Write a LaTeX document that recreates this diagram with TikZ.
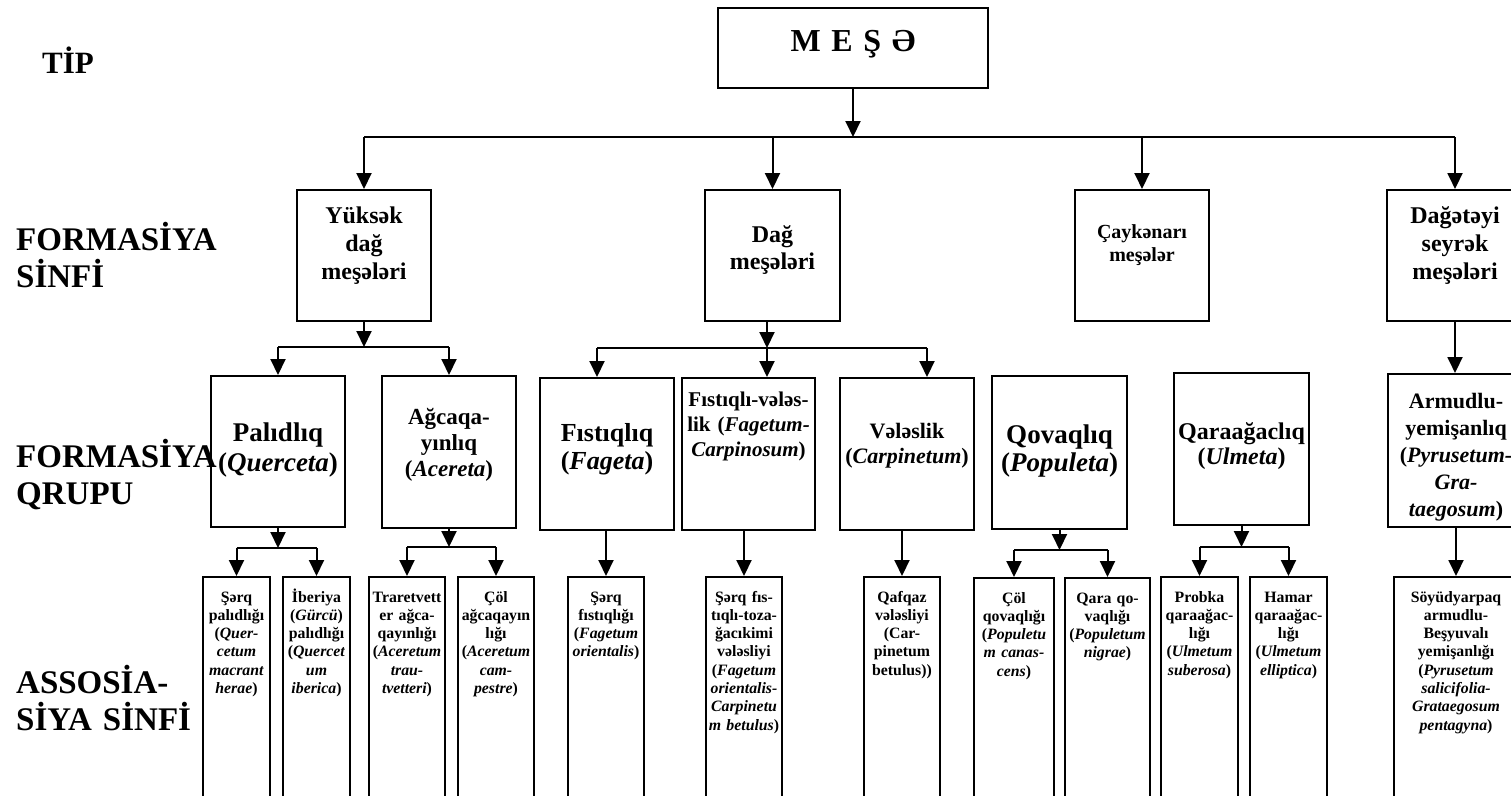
\documentclass[tikz,border=0pt]{standalone}
\usepackage{fontspec}
\setmainfont{Liberation Serif}
\usepackage{tikz}
\usetikzlibrary{arrows.meta}
\tikzset{>={Triangle[length=16pt,width=15pt]}}
\hyphenpenalty=10000
\exhyphenpenalty=10000

\begin{document}
\begin{tikzpicture}[x=1pt, y=-1pt,
	fsz/.style 2 args={font=\bfseries\fontsize{#1}{#2}\selectfont},
	box/.style={draw, line width=2pt, anchor=north west, inner xsep=2pt, inner ysep=0pt, align=center},
	assoc/.style={box, text height=25pt, text depth=240pt, fsz={15.8}{18.3}},
	lab/.style={anchor=base west, inner sep=0pt, text width=240pt, align=left, fsz={33}{37}},
	conn/.style={->, line width=2pt},
	bus/.style={line width=1.7pt}]
	\useasboundingbox (0,0) rectangle (1511,795);
	\clip (0,0) rectangle (1511,795);
	% level names
	\node[lab, fsz={31}{37}] (tip) at (42,73) {TİP};
	\node[lab] (fsinfi) at (16,250) {FORMASİYA\\SİNFİ};
	\node[lab] (fqrupu) at (16,467) {FORMASİYA\\QRUPU};
	\node[lab] (asinfi) at (16,693) {ASSOSİA-\\SİYA SİNFİ};
	% type
	\node[box, text width=266pt, text height=43pt, text depth=37pt, fsz={32}{38}] (mese) at (717,7) {M E Ş Ə};
	% formation classes
	\node[box, text width=130pt, text height=33pt, text depth=98pt, fsz={24}{28}] (ys) at (296,189) {Yüksək\\dağ\\meşələri};
	\node[box, text width=131pt, text height=52pt, text depth=79pt, fsz={24}{27}] (dag) at (704,189) {Dağ\\meşələri};
	\node[box, text width=130pt, text height=48pt, text depth=83pt, fsz={20}{23}] (cay) at (1074,189) {Çaykənarı\\meşələr};
	\node[box, text width=132pt, text height=33pt, text depth=98pt, fsz={24}{28}] (dty) at (1386,189) {Dağətəyi\\seyrək\\meşələri};
	% formation groups
	\node[box, text width=130pt, text height=65pt, text depth=86pt, fsz={27}{30}] (palid) at (210,375) {Palıdlıq\\(\textit{Querceta})};
	\node[box, text width=130pt, text height=48pt, text depth=104pt, fsz={23}{26}] (agc) at (381,375) {Ağcaqa-\\yınlıq\\(\textit{Acereta})};
	\node[box, text width=130pt, text height=63pt, text depth=89pt, fsz={26}{28}] (fist) at (539,377) {Fıstıqlıq\\(\textit{Fageta})};
	\node[box, text width=129pt, text height=28pt, text depth=124pt, fsz={21}{25}] (fv) at (681,377) {Fıstıqlı-vələs-\\lik (\textit{Fagetum-}\\\textit{Carpinosum})};
	\node[box, text width=130pt, text height=60pt, text depth=92pt, fsz={22}{25}] (vel) at (839,377) {Vələslik\\(\textit{Carpinetum})};
	\node[box, text width=131pt, text height=67pt, text depth=86pt, fsz={27}{28}] (qov) at (991,375) {Qovaqlıq\\(\textit{Populeta})};
	\node[box, text width=131pt, text height=66pt, text depth=86pt, fsz={24}{25}] (qar) at (1173,372) {Qaraağaclıq\\(\textit{Ulmeta})};
	\node[box, text width=132pt, text height=34pt, text depth=119pt, fsz={22}{27}] (arm) at (1387,373) {Armudlu-\\yemişanlıq\\(\textit{Pyrusetum-}\\\textit{Gra-}\\\textit{taegosum})};
	% association classes
	\node[assoc, text width=63pt] (a1) at (202,576) {Şərq\\palıdlığı\\(\textit{Quer-}\\\textit{cetum}\\\textit{macrant}\\\textit{herae})};
	\node[assoc, text width=63pt] (a2) at (282,576) {İberiya\\(\textit{Gürcü})\\palıdlığı\\(\textit{Quercet}\\\textit{um}\\\textit{iberica})};
	\node[assoc, text width=72pt] (a3) at (368,576) {Traretvett\\er ağca-\\qayınlığı\\(\textit{Aceretum}\\\textit{trau-}\\\textit{tvetteri})};
	\node[assoc, text width=72pt] (a4) at (457,576) {Çöl\\ağcaqayın\\lığı\\(\textit{Aceretum}\\\textit{cam-}\\\textit{pestre})};
	\node[assoc, text width=72pt] (a5) at (567,576) {Şərq\\fıstıqlığı\\(\textit{Fagetum}\\\textit{orientalis})};
	\node[assoc, text width=72pt] (a6) at (705,576) {Şərq fıs-\\tıqlı-toza-\\ğacıkimi\\vələsliyi\\(\textit{Fagetum}\\\textit{orientalis-}\\\textit{Carpinetu}\\\textit{m betulus})};
	\node[assoc, text width=72pt] (a7) at (863,576) {Qafqaz\\vələsliyi\\(Car-\\pinetum\\betulus))};
	\node[assoc, text width=76pt] (a8) at (973,577) {Çöl\\qovaqlığı\\(\textit{Populetu}\\\textit{m canas-}\\\textit{cens})};
	\node[assoc, text width=81pt] (a9) at (1064,577) {Qara qo-\\vaqlığı\\(\textit{Populetum}\\\textit{nigrae})};
	\node[assoc, text width=73pt] (a10) at (1160,576) {Probka\\qaraağac-\\lığı\\(\textit{Ulmetum}\\\textit{suberosa})};
	\node[assoc, text width=73pt] (a11) at (1249,576) {Hamar\\qaraağac-\\lığı\\(\textit{Ulmetum}\\\textit{elliptica})};
	\node[assoc, text width=120pt] (a12) at (1393,576) {Söyüdyarpaq\\armudlu-\\Beşyuvalı\\yemişanlığı\\(\textit{Pyrusetum}\\\textit{salicifolia-}\\\textit{Grataegosum}\\\textit{pentagyna})};
	% type -> formation classes
	\coordinate (b0) at (852,137);
	\draw[conn] (mese.south) -- (mese.south |- b0);
	\draw[bus] (ys.north |- b0) -- (dty.north |- b0);
	\foreach \n in {ys,dag,cay,dty}
		\draw[conn] (\n.north |- b0) -- (\n.north);
	% classes -> groups
	\coordinate (b1) at (363,347);
	\draw[conn] (ys.south) -- (ys.south |- b1);
	\draw[bus] (palid.north |- b1) -- (agc.north |- b1);
	\foreach \n in {palid,agc}
		\draw[conn] (\n.north |- b1) -- (\n.north);
	\coordinate (b2) at (767,348);
	\draw[conn] (dag.south -| b2) -- (b2);
	\draw[bus] ([xshift=-10pt]fist.north |- b2) -- ([xshift=20pt]vel.north |- b2);
	\draw[conn] ([xshift=-10pt]fist.north |- b2) -- ([xshift=-10pt]fist.north);
	\draw[conn] (b2) -- (fv.north -| b2);
	\draw[conn] ([xshift=20pt]vel.north |- b2) -- ([xshift=20pt]vel.north);
	\draw[conn] (dty.south) -- (dty.south |- arm.north);
	% groups -> associations
	\coordinate (b3) at (277,548);
	\draw[conn] (palid.south) -- (palid.south |- b3);
	\draw[bus] (a1.north |- b3) -- (a2.north |- b3);
	\foreach \n in {a1,a2}
		\draw[conn] (\n.north |- b3) -- (\n.north);
	\coordinate (b4) at (448,547);
	\draw[conn] (agc.south) -- (agc.south |- b4);
	\draw[bus] (a3.north |- b4) -- (a4.north |- b4);
	\foreach \n in {a3,a4}
		\draw[conn] (\n.north |- b4) -- (\n.north);
	\draw[conn] (a5.north |- fist.south) -- (a5.north);
	\draw[conn] (a6.north |- fv.south) -- (a6.north);
	\draw[conn] (a7.north |- vel.south) -- (a7.north);
	\coordinate (b5) at (1058,550);
	\draw[conn] (qov.south) -- (qov.south |- b5);
	\draw[bus] (a8.north |- b5) -- (a9.north |- b5);
	\foreach \n in {a8,a9}
		\draw[conn] (\n.north |- b5) -- (\n.north);
	\coordinate (b6) at (1240,547);
	\draw[conn] (qar.south) -- (qar.south |- b6);
	\draw[bus] (a10.north |- b6) -- (a11.north |- b6);
	\foreach \n in {a10,a11}
		\draw[conn] (\n.north |- b6) -- (\n.north);
	\draw[conn] (arm.south) -- (arm.south |- a12.north);
\end{tikzpicture}
\end{document}
